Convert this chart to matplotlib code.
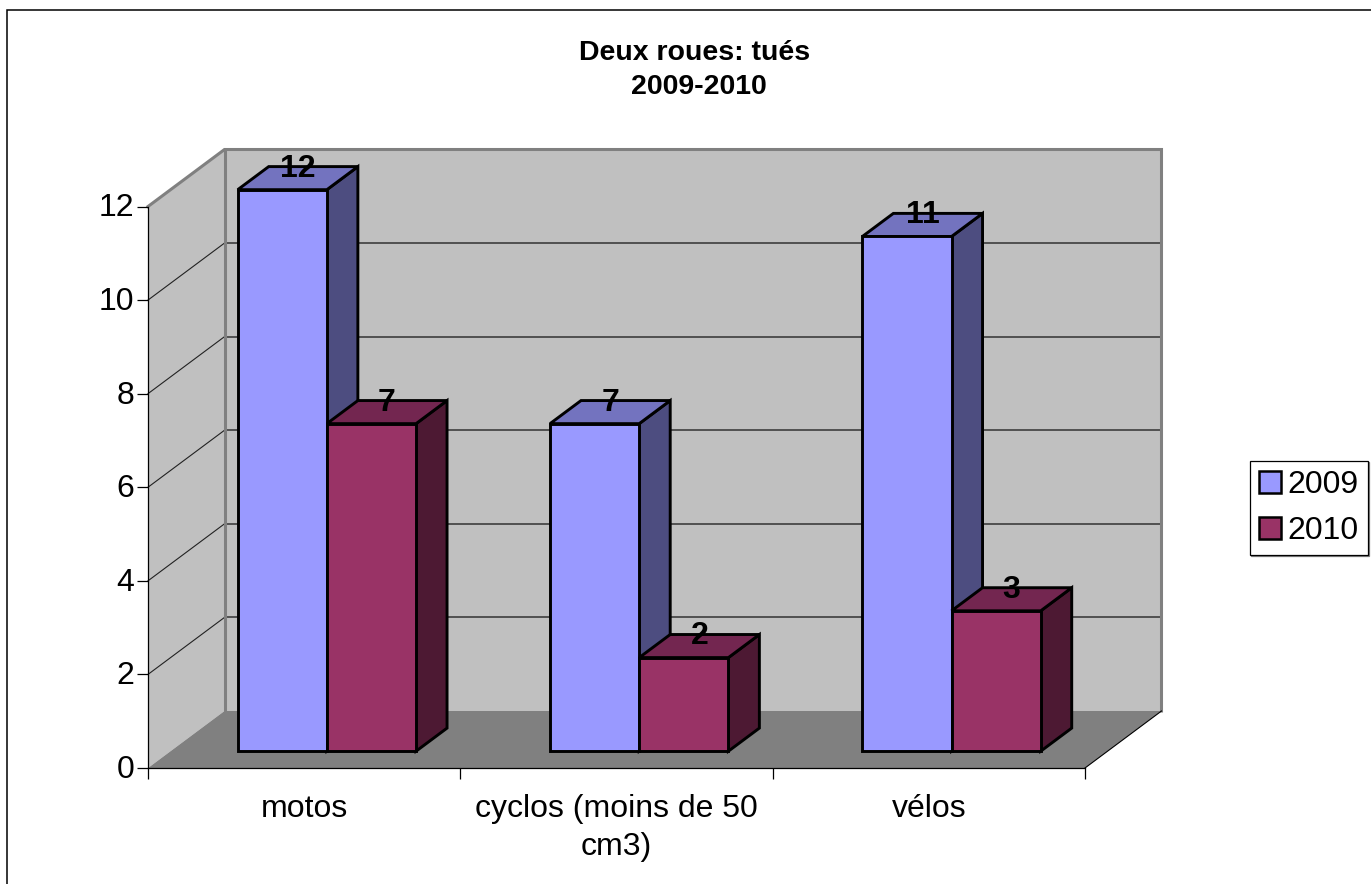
#!/usr/bin/env python3
"""Deux roues: tues 2009-2010, fake 3D clustered columns drawn on a plain axes"""
import matplotlib
matplotlib.use('Agg')
import matplotlib.pyplot as plt
from matplotlib.patches import Polygon, Patch, Rectangle
from matplotlib.transforms import ScaledTranslation

plt.rcParams['font.family'] = ['Liberation Sans', 'DejaVu Sans']

categories = ['motos', 'cyclos (moins de 50\ncm3)', 'vélos']
series_names = ['2009', '2010']
values_2009 = [12, 7, 11]
values_2010 = [7, 2, 3]
yticks = [0, 2, 4, 6, 8, 10, 12]

W, H = 1371, 884
fig = plt.figure(figsize=(W / 100, H / 100), dpi=100)
ax = fig.add_axes([148 / W, (H - 768) / H, 937 / W, 561.5 / H])
ax.set_xlim(0, 3)
ax.set_ylim(0, 12)
ax.patch.set_visible(False)

# depth of the box, in data units
dx = 76.5 / (937 / 3)
dy = 57 / (561.5 / 12)
# bars sit between these two depth fractions
d0, d1 = 0.295, 0.70
bar_off, bar_w = 0.215, 0.2855


def pt(x, v, d=0):
    return (x + d * dx, v + d * dy)


def poly(pts, fc, ec='none', lw=0, z=1):
    ax.add_patch(Polygon(pts, closed=True, facecolor=fc, edgecolor=ec, linewidth=lw,
                         zorder=z, clip_on=False, joinstyle='miter'))


# walls and floor
grey = '#808080'
poly([pt(0, 0), pt(0, 0, 1), pt(0, 12, 1), pt(0, 12)], '#C0C0C0', z=1)
poly([pt(0, 0, 1), pt(3, 0, 1), pt(3, 12, 1), pt(0, 12, 1)], '#C0C0C0', z=1)
poly([pt(0, 0), pt(3, 0), pt(3, 0, 1), pt(0, 0, 1)], grey, z=1.1)

# gridlines on both walls
for v in yticks[1:-1]:
    ax.plot(*zip(pt(0, v), pt(0, v, 1)), color='#222222', lw=0.8, zorder=1.2, clip_on=False)
    ax.plot(*zip(pt(0, v, 1), pt(3, v, 1)), color='#333333', lw=1.1, zorder=1.2, clip_on=False)

# wall outline
ax.plot(*zip(pt(0, 12), pt(0, 12, 1), pt(3, 12, 1), pt(3, 0, 1)), color=grey, lw=2.2, zorder=1.3,
        clip_on=False, solid_joinstyle='miter')
ax.plot(*zip(pt(0, 0, 1), pt(0, 12, 1)), color=grey, lw=2.2, zorder=1.3, clip_on=False)
ax.plot(*zip(pt(3, 0), pt(3, 0, 1)), color='black', lw=0.8, zorder=1.3, clip_on=False)

# bars
colors = {'2009': ('#9999FF', '#7373BF', '#4D4D80'), '2010': ('#993366', '#732650', '#4D1933')}
edge_w = 2.1
for i in range(len(categories)):
    for j, (name, vals) in enumerate(zip(series_names, [values_2009, values_2010])):
        front, top, side = colors[name]
        x0 = i + bar_off + j * bar_w
        x1 = x0 + bar_w
        v = vals[i]
        z = 2 + j * 0.1
        poly([pt(x1, 0, d0), pt(x1, 0, d1), pt(x1, v, d1), pt(x1, v, d0)], side, 'black', edge_w, z)
        poly([pt(x0, v, d0), pt(x1, v, d0), pt(x1, v, d1), pt(x0, v, d1)], top, 'black', edge_w, z)
        poly([pt(x0, 0, d0), pt(x1, 0, d0), pt(x1, v, d0), pt(x0, v, d0)], front, 'black', edge_w, z)

# value labels go on the back edge of each bar top, above all bars
for i in range(len(categories)):
    for j, vals in enumerate([values_2009, values_2010]):
        xc = i + bar_off + (j + 0.5) * bar_w
        x = pt(xc, vals[i], (d0 + d1) / 2)[0]
        y2 = pt(xc, vals[i], d1)[1]
        ax.annotate(str(vals[i]), (x, y2), xytext=(0, -1.4), textcoords='offset points', ha='center',
                    va='center', fontsize=23, fontweight='bold', zorder=5, annotation_clip=False)

# axes
for s in ['top', 'right']:
    ax.spines[s].set_visible(False)
for s in ['left', 'bottom']:
    ax.spines[s].set_linewidth(0.9)
    ax.spines[s].set_zorder(1.5)
ax.set_yticks(yticks)
ax.tick_params(axis='y', labelsize=23, length=8, width=0.9, pad=2)
nudge = ScaledTranslation(0, 1.1 / 72, fig.dpi_scale_trans)
for lbl in ax.get_yticklabels():
    lbl.set_transform(lbl.get_transform() + nudge)
ax.set_xticks(range(len(categories) + 1))
ax.set_xticklabels([])
ax.set_xticks([i + 0.5 for i in range(len(categories))], minor=True)
ax.set_xticklabels(categories, minor=True, fontsize=23, linespacing=1.35)
ax.tick_params(axis='x', which='major', length=8, width=0.9)
ax.tick_params(axis='x', which='minor', length=0, pad=18.5)

fig.text(695 / W, 1 - 52.5 / H, 'Deux roues: tués', ha='center', va='center', fontsize=20.5, fontweight='bold')
fig.text(699 / W, 1 - 87.5 / H, '2009-2010', ha='center', va='center', fontsize=20.5, fontweight='bold')

# outer chart frame, runs off the bottom and right of the picture
fig.add_artist(Rectangle((7.3 / W, -0.02), 1.1, 1.02 - 10.5 / H, transform=fig.transFigure,
                         facecolor='none', edgecolor='black', linewidth=1.1))

handles = [Patch(facecolor=colors[n][0], edgecolor='black', linewidth=1.8, label=n) for n in series_names]
leg = fig.legend(handles=handles, loc='center', bbox_to_anchor=(1309 / W, 1 - 508 / H), fontsize=23,
                 frameon=True, fancybox=False, framealpha=1, edgecolor='black', handlelength=0.69,
                 handleheight=0.69, handletextpad=0.2, labelspacing=0.5, borderpad=0.28, borderaxespad=0,
                 shadow={'color': grey, 'alpha': 1, 'ox': 0.8, 'oy': -0.8})
leg.get_frame().set_linewidth(0.9)

fig.savefig('out.png', dpi=100)
